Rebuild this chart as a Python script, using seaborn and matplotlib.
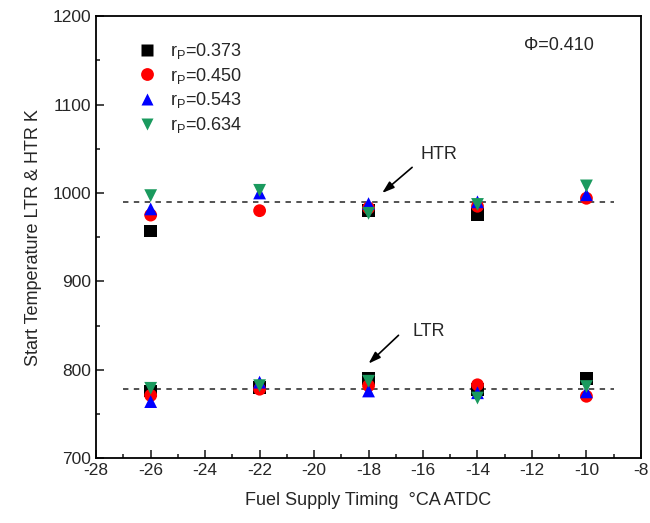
import matplotlib
matplotlib.use("Agg")
import matplotlib.pyplot as plt
import seaborn as sns
import pandas as pd
import numpy as np
from matplotlib.ticker import MultipleLocator

timing = [-26, -22, -18, -14, -10]
series_labels = ["r$_\\mathregular{P}$=0.373", "r$_\\mathregular{P}$=0.450",
                 "r$_\\mathregular{P}$=0.543", "r$_\\mathregular{P}$=0.634"]
htr_values = [
    [957, np.nan, 980, 976, np.nan],
    [975, 980, 983, 985, 994],
    [982, 1000, 988, 990, 998],
    [997, 1003, 977, 987, 1008],
]
ltr_values = [
    [776, 780, 790, 778, 790],
    [771, 778, 782, 783, 770],
    [764, 786, 776, 774, 775],
    [779, 782, 787, 768, 781],
]
htr_mean = 990
ltr_mean = 778

colors = ["#000000", "#ff0000", "#0000ff", "#1a9a5e"]
markers = ["s", "o", "^", "v"]

rows = []
for lab, hv, lv in zip(series_labels, htr_values, ltr_values):
    for x, h, l in zip(timing, hv, lv):
        rows.append({"timing": x, "temp": h, "series": lab, "kind": "HTR"})
        rows.append({"timing": x, "temp": l, "series": lab, "kind": "LTR"})
df = pd.DataFrame(rows).dropna()

sns.set_theme(style="ticks")
plt.rcParams["font.family"] = ["Liberation Sans", "DejaVu Sans"]
plt.rcParams["axes.unicode_minus"] = False

fig = plt.figure(figsize=(6.5, 5.23), dpi=100)
ax = fig.add_axes([0.148, 0.124, 0.838, 0.845])

ax.plot([-27, -9], [htr_mean, htr_mean], ls=(0, (3, 3)), color="#444444", lw=1.3, zorder=1)
ax.plot([-27, -9], [ltr_mean, ltr_mean], ls=(0, (3, 3)), color="#444444", lw=1.3, zorder=1)

sns.scatterplot(data=df, x="timing", y="temp", hue="series", style="series",
                palette=dict(zip(series_labels, colors)),
                markers=dict(zip(series_labels, markers)),
                hue_order=series_labels, style_order=series_labels,
                s=85, edgecolor="none", ax=ax, zorder=3, legend=True)

ax.set_xlim(-28, -8)
ax.set_ylim(700, 1200)
ax.xaxis.set_major_locator(MultipleLocator(2))
ax.xaxis.set_minor_locator(MultipleLocator(1))
ax.yaxis.set_major_locator(MultipleLocator(100))
ax.yaxis.set_minor_locator(MultipleLocator(50))
ax.tick_params(which="both", direction="in", top=False, right=False, labelsize=12.5, width=1.2)
ax.tick_params(which="major", length=6)
ax.tick_params(which="minor", length=3)
for sp in ax.spines.values():
    sp.set_linewidth(1.3)
    sp.set_color("black")

ax.set_xlabel("Fuel Supply Timing  \u00b0CA ATDC", fontsize=13, labelpad=10)
ax.set_ylabel("Start Temperature LTR & HTR K", fontsize=13, labelpad=8)

leg = ax.legend(loc="upper left", bbox_to_anchor=(0.03, 0.98), frameon=False,
                fontsize=13, handletextpad=0.3, labelspacing=0.25, markerscale=1.0)

ax.text(-11, 1167, "\u03a6=0.410", fontsize=13, ha="center", va="center")
ax.text(-15.4, 1043, "HTR", fontsize=13, ha="center", va="center")
ax.annotate("", xy=(-17.5, 1000), xytext=(-16.4, 1029),
            arrowprops=dict(arrowstyle="-|>,head_length=0.6,head_width=0.2",
                            color="black", lw=1.2, shrinkA=0, shrinkB=0))
ax.text(-15.8, 843, "LTR", fontsize=13, ha="center", va="center")
ax.annotate("", xy=(-18.0, 807), xytext=(-16.9, 839),
            arrowprops=dict(arrowstyle="-|>,head_length=0.6,head_width=0.2",
                            color="black", lw=1.2, shrinkA=0, shrinkB=0))

fig.savefig("out.png", dpi=100)
